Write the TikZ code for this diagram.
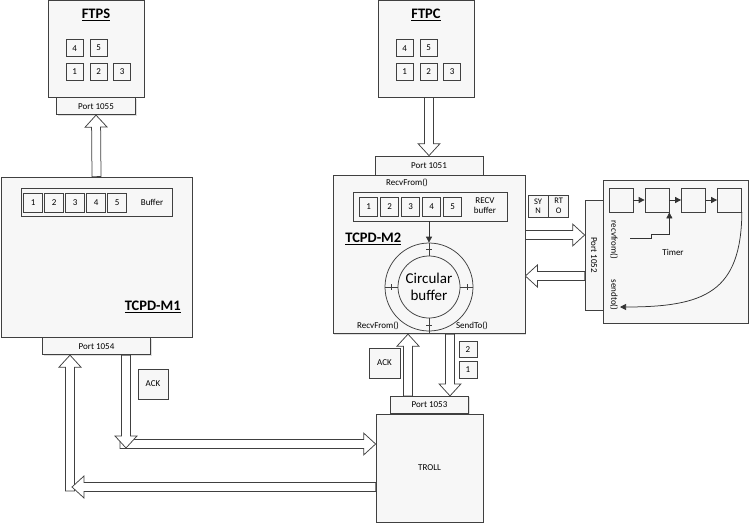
\documentclass[tikz,border=0pt]{standalone}
\usepackage{fontspec}
\setmainfont{Carlito}
\usetikzlibrary{arrows.meta,positioning,calc,shadows}

% hollow block arrow from #1 to #2
\newcommand{\blockarrow}[2]{%
  \coordinate (ba-a) at (#1);
  \coordinate (ba-b) at (#2);
  \coordinate (ba-h) at ($(ba-b)!12pt!(ba-a)$);
  \draw[blockarr] ($(ba-a)!4.5pt!90:(ba-b)$) -- ($(ba-h)!4.5pt!90:(ba-b)$)
    -- ($(ba-h)!11pt!90:(ba-b)$) -- (ba-b) -- ($(ba-h)!11pt!-90:(ba-b)$)
    -- ($(ba-h)!4.5pt!-90:(ba-b)$) -- ($(ba-a)!4.5pt!-90:(ba-b)$) -- cycle;}

\begin{document}
\begin{tikzpicture}[
    x=1pt, y=-1pt,
    line width=0.75pt,
    every node/.style={font=\fontsize{9}{10}\selectfont, align=center, inner sep=0pt},
    box/.style={draw=black!75, fill=black!3, drop shadow={shadow xshift=1pt, shadow yshift=-1pt, opacity=0.25}},
    port/.style={box, minimum height=17pt},
    sq/.style={draw=black!75, fill=black!3, minimum width=18pt, minimum height=18pt},
    titlefont/.style={font=\fontsize{14.5}{16}\selectfont\bfseries},
    blockarr/.style={draw=black!75, fill=white, line join=miter},
    arrow/.style={-{Triangle[length=6pt,width=6pt]}, draw=black!80}
  ]
  \useasboundingbox (0,0) rectangle (750,525);

  % FTPS / FTPC
  \node[box, minimum width=96pt, minimum height=97pt] (ftps) at (96,48.5) {};
  \node[titlefont] (ftpstitle) at (ftps.north |- 0,15) {\underline{FTPS}};
  \node[port, minimum width=79pt, below=0pt of ftps] (p1055) {Port 1055};
  \node[box, minimum width=96pt, minimum height=97pt] (ftpc) at (426,48.5) {};
  \node[titlefont] (ftpctitle) at (ftpc.north |- 0,15) {\underline{FTPC}};
  \foreach \b in {ftps,ftpc}
    \foreach \n/\dx/\dy in {4/27/48.5, 5/51/48.5, 1/27/72, 2/51/72, 3/74.5/72}
      \node[sq, minimum width=17pt, minimum height=17pt] (\b\n) at ($(\b.north west)+(\dx,\dy)$) {\n};

  % TCPD-M1
  \node[box, minimum width=191pt, minimum height=160pt] (m1) at (96.5,257) {};
  \node[port, minimum width=108pt, below=0pt of m1] (p1054) {Port 1054};
  \node[sq, minimum width=151pt, minimum height=28pt] (m1buf) at (96.5,202) {};
  \foreach \n in {1,...,5}
    \node[sq, minimum width=19pt, minimum height=19pt] (m1buf\n) at ($(m1buf.west)+(12.5+21*\n-21,0.5)$) {\n};
  \node (m1buflbl) at (152,202) {Buffer};
  \node[titlefont, anchor=east] (m1lbl) at (181,307) {\underline{TCPD-M1}};

  % TCPD-M2
  \node[port, minimum width=108pt, minimum height=19pt] (p1051) at (429,165.5) {Port 1051};
  \node[box, minimum width=192pt, minimum height=158pt, below=0pt of p1051] (m2) {};
  \node (recvtop) at (407,183) {RecvFrom()};
  \node[sq, minimum width=154pt, minimum height=29pt] (m2buf) at (430,206.5) {};
  \foreach \n in {1,...,5}
    \node[sq, minimum width=18pt, minimum height=19pt] (m2buf\n) at ($(m2buf.west)+(16+21*\n-21,0)$) {\n};
  \node (m2buflbl) at (485,206) {RECV\\buffer};
  \node[titlefont, anchor=west] (m2lbl) at (345,239) {\underline{TCPD-M2}};
  \node[circle, draw=black!75, minimum size=88pt] (ring) at (429,287) {};
  \node[circle, draw=black!75, minimum size=62pt, font=\fontsize{15}{17}\selectfont] (core) at (ring) {Circular\\buffer};
  \foreach \a/\dx/\dy in {north/3/0, south/3/0, east/0/3, west/0/3} {
    \draw[black!75] (ring.\a) -- (core.\a);
    \draw[black!75] ($(ring.\a)!0.5!(core.\a)+(-\dx,-\dy)$) -- ++(2*\dx,2*\dy);
  }
  \draw[black!75] (ring.south) -- (ring.south |- m2.south);
  \draw[arrow] (m2buf.south -| ring.north) -- (ring.north);
  \node (recvbot) at (378,326) {RecvFrom()};
  \node (sendbot) at (472,326) {SendTo()};
  \node[sq, minimum width=20pt, minimum height=22pt, font=\fontsize{8.5}{9.5}\selectfont] (syn) at (538,206) {SY\\N};
  \node[sq, minimum width=20pt, minimum height=22pt, font=\fontsize{8.5}{9.5}\selectfont, right=0pt of syn] (rto) {RT\\O};

  % Timer
  \node[box, minimum width=145pt, minimum height=143pt] (timer) at (675.5,251.5) {};
  \node (timerlbl) at (673,252) {Timer};
  \node[port, minimum width=18pt, minimum height=110pt] (p1052) at (594,255) {};
  \node[rotate=-90] (p1052lbl) at (p1052) {Port 1052};
  \foreach \n/\x in {1/621, 2/657, 3/693.5, 4/729.5}
    \node[sq, minimum size=24pt] (t\n) at (\x,200) {};
  \foreach \a/\b in {t1/t2, t2/t3, t3/t4}
    \draw[arrow] (\a) -- (\b);
  \node[rotate=-90] (rflbl) at (614,240) {recvfrom()};
  \node[rotate=-90] (sdlbl) at (614,295) {sendto()};
  \coordinate (rfin) at (630,238);
  \draw[arrow] (rfin) -- ++(21,0) -- ++(0,-4) -| (t2.south east);
  \coordinate (sdin) at (620,307);
  \draw[arrow] (t4.south east) .. controls (741,292) and (705,307) .. (sdin);

  % TROLL
  \node[box, minimum width=107pt, minimum height=108pt] (troll) at (429.5,468) {TROLL};
  \node[port, minimum width=78pt, above=0pt of troll] (p1053) {Port 1053};
  \node[sq, minimum size=30pt] (ack1) at (153,384) {ACK};
  \node[sq, minimum width=31pt, minimum height=30pt] (ack2) at (384.5,363) {ACK};
  \node[sq, minimum width=18pt, minimum height=16pt] (seg2) at (468,349.5) {2};
  \node[sq, minimum width=18pt, minimum height=17pt] (seg1) at (468,369.5) {1};

  % block arrows
  \blockarrow{m1.north}{p1055.south}
  \blockarrow{ftpc.south -| p1051}{p1051.north}
  \blockarrow{m2.east |- 0,235}{p1052.west |- 0,235}
  \blockarrow{p1052.west |- 0,276}{m2.east |- 0,276}
  \blockarrow{p1053.north -| 408,0}{m2.south -| 408,0}
  \blockarrow{m2.south -| 450,0}{p1053.north -| 450,0}
  \coordinate (rightstart) at (120,444);
  \coordinate (downend) at (126,448);
  \coordinate (upstart) at (70,491);
  \coordinate (leftend) at (72,487);
  \blockarrow{rightstart}{troll.west |- rightstart}
  \blockarrow{p1054.south -| downend}{downend}
  \blockarrow{upstart}{p1054.south -| upstart}
  \blockarrow{troll.west |- leftend}{leftend}
\end{tikzpicture}
\end{document}
